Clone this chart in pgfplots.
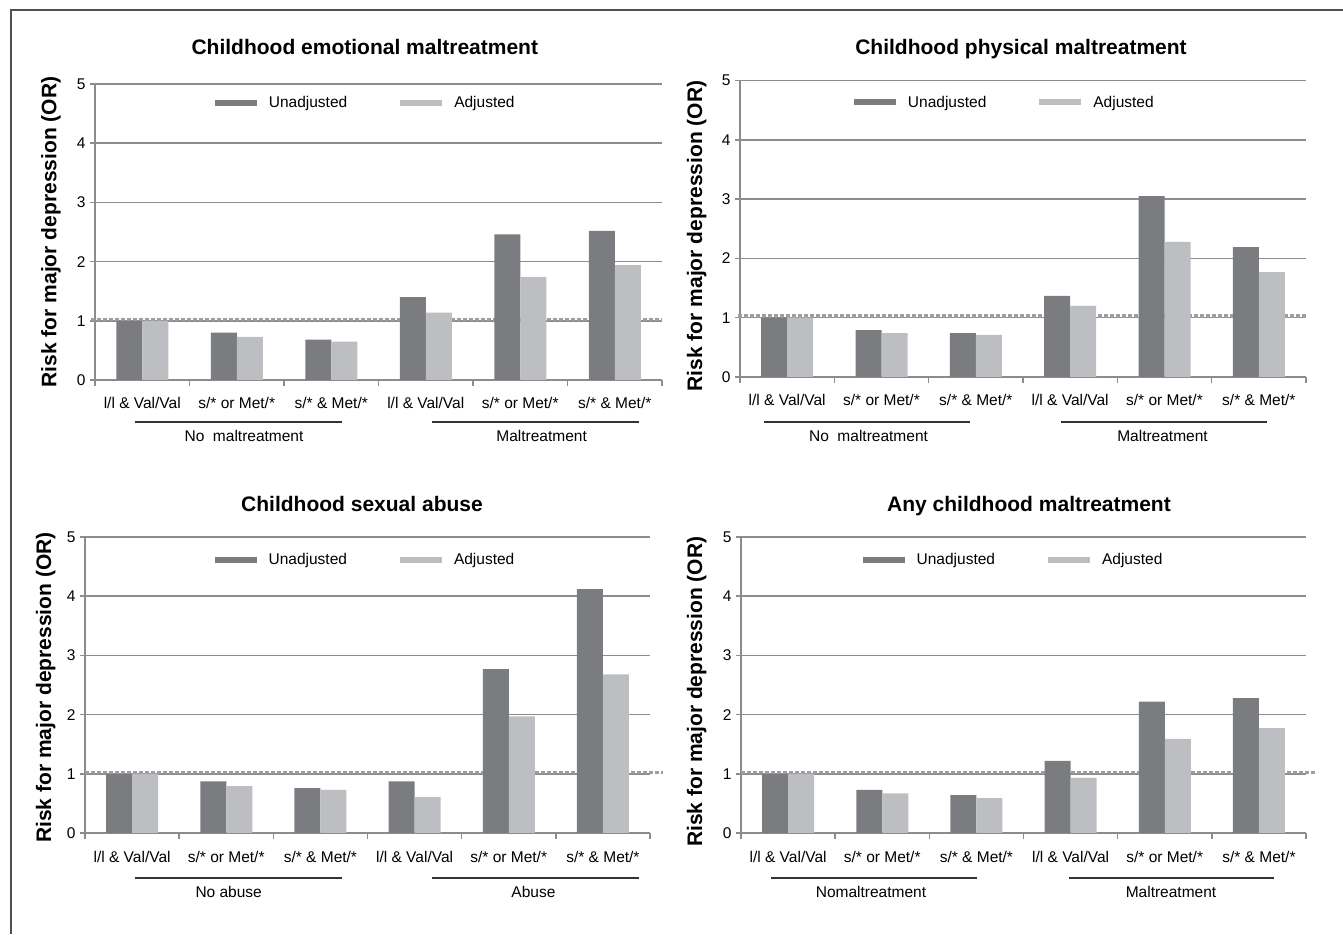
\documentclass[border=0pt]{standalone}
\usepackage{fontspec}
\setmainfont{Liberation Sans}
\usepackage{pgfplots}
\pgfplotsset{compat=1.18}

\definecolor{unadj}{RGB}{123,124,128}
\definecolor{adj}{RGB}{189,190,194}
\definecolor{gridgray}{RGB}{140,140,140}
\definecolor{refgray}{RGB}{158,158,158}
\definecolor{framegray}{RGB}{80,80,80}

\newcommand{\ticksize}{\fontsize{15.5}{18}\selectfont}
\newcommand{\bigsize}{\fontsize{21}{25}\selectfont\bfseries}

\tikzset{refline/.style={refgray, line width=3.5pt, dash pattern=on 4pt off 2pt}}

\pgfplotsset{
  riskaxis/.style={
    scale only axis,
    ybar=0pt, bar width=26pt,
    xmin=-0.5, xmax=5.5, ymin=0, ymax=5,
    axis lines*=left,
    axis line style={gridgray, line width=1.5pt},
    ymajorgrids, grid style={gridgray, line width=1.5pt},
    xtick={0,...,5},
    xticklabels={l/l \& Val/Val, s/* or Met/*, s/* \& Met/*, l/l \& Val/Val, s/* or Met/*, s/* \& Met/*},
    minor xtick={-0.5,0.5,...,5.5},
    major x tick style={draw=none},
    minor x tick style={gridgray, line width=1.5pt},
    y tick style={gridgray, line width=1.5pt},
    tick align=outside,
    major tick length=5pt, minor tick length=6pt,
    ytick={0,...,5},
    tick label style={font=\ticksize},
    xticklabel style={anchor=base, yshift=-24pt},
    yticklabel style={xshift=-1pt},
    /pgf/number format/assume math mode=true,
    clip=false,
    legend columns=2,
    legend style={draw=none, fill=none, inner sep=0pt, anchor=west, font=\ticksize,
      /tikz/every odd column/.append style={column sep=10pt},
      /tikz/every even column/.append style={column sep=51pt}},
  },
  unadjbar/.style={draw=none, fill=unadj,
    legend image code/.code={\fill[unadj] (0pt,-3pt) rectangle (42pt,3pt);}},
  adjbar/.style={draw=none, fill=adj,
    legend image code/.code={\fill[adj] (0pt,-3pt) rectangle (42pt,3pt);}},
}

\begin{document}
\begin{tikzpicture}
\useasboundingbox (0pt,0pt) rectangle (1343pt,934pt);
\draw[framegray, line width=2pt] (11pt,0pt) -- (11pt,924pt) -- (1343pt,924pt);

% Childhood emotional maltreatment
\begin{axis}[riskaxis, at={(95pt,554pt)}, anchor=south west, width=567pt, height=296pt,
  legend style={at={(0.211,0.936)}}]
\draw[refline] (axis cs:-0.54,1.025) -- (axis cs:5.5,1.025);
\addplot[unadjbar] coordinates {(0,1.00) (1,0.80) (2,0.68) (3,1.40) (4,2.46) (5,2.52)};
\addplot[adjbar] coordinates {(0,1.00) (1,0.73) (2,0.65) (3,1.14) (4,1.74) (5,1.94)};
\legend{Unadjusted, Adjusted}
\end{axis}

% Childhood physical maltreatment
\begin{axis}[riskaxis, at={(740pt,557pt)}, anchor=south west, width=566pt, height=296.5pt,
  legend style={at={(0.201,0.926)}}]
\draw[refline] (axis cs:-0.52,1.025) -- (axis cs:5.52,1.025);
\addplot[unadjbar] coordinates {(0,1.00) (1,0.79) (2,0.74) (3,1.37) (4,3.05) (5,2.19)};
\addplot[adjbar] coordinates {(0,1.00) (1,0.74) (2,0.71) (3,1.20) (4,2.28) (5,1.77)};
\legend{Unadjusted, Adjusted}
\end{axis}

% Childhood sexual abuse
\begin{axis}[riskaxis, at={(85pt,101pt)}, anchor=south west, width=565pt, height=296pt,
  legend style={at={(0.229,0.922)}}]
\draw[refline] (axis cs:-0.5,1.025) -- (axis cs:5.64,1.025);
\addplot[unadjbar] coordinates {(0,1.00) (1,0.87) (2,0.76) (3,0.87) (4,2.77) (5,4.12)};
\addplot[adjbar] coordinates {(0,1.00) (1,0.79) (2,0.73) (3,0.61) (4,1.97) (5,2.68)};
\legend{Unadjusted, Adjusted}
\end{axis}

% Any childhood maltreatment
\begin{axis}[riskaxis, at={(741pt,101pt)}, anchor=south west, width=565pt, height=296pt,
  legend style={at={(0.215,0.922)}}]
\draw[refline] (axis cs:-0.5,1.025) -- (axis cs:5.6,1.025);
\addplot[unadjbar] coordinates {(0,1.00) (1,0.73) (2,0.64) (3,1.22) (4,2.22) (5,2.28)};
\addplot[adjbar] coordinates {(0,1.00) (1,0.67) (2,0.59) (3,0.93) (4,1.59) (5,1.77)};
\legend{Unadjusted, Adjusted}
\end{axis}

% titles
\node[font=\bigsize, anchor=base] at (364.8pt,879pt) {Childhood emotional maltreatment};
\node[font=\bigsize, anchor=base] at (1021pt,879pt) {Childhood physical maltreatment};
\node[font=\bigsize, anchor=base] at (362pt,422.3pt) {Childhood sexual abuse};
\node[font=\bigsize, anchor=base] at (1029pt,422.3pt) {Any childhood maltreatment};

% y labels
\foreach \px/\py in {56.4/702, 702/698, 51/246.5, 702/242.3}
  \node[font=\bigsize, anchor=base, rotate=90] at (\px pt,\py pt) {Risk for major depression (OR)};

% group brackets
\draw[black!80, line width=1.8pt] (135pt,512pt) -- (342pt,512pt);
\draw[black!80, line width=1.8pt] (432pt,512pt) -- (639pt,512pt);
\draw[black!80, line width=1.8pt] (764pt,512pt) -- (970pt,512pt);
\draw[black!80, line width=1.8pt] (1061pt,512pt) -- (1267pt,512pt);
\draw[black!80, line width=1.8pt] (135pt,55.7pt) -- (342pt,55.7pt);
\draw[black!80, line width=1.8pt] (432pt,55.7pt) -- (639pt,55.7pt);
\draw[black!80, line width=1.8pt] (771pt,55.7pt) -- (977pt,55.7pt);
\draw[black!80, line width=1.8pt] (1069pt,55.7pt) -- (1274pt,55.7pt);

\node[font=\ticksize, anchor=base] at (244pt,492.3pt) {No~~maltreatment};
\node[font=\ticksize, anchor=base] at (541.6pt,492.3pt) {Maltreatment};
\node[font=\ticksize, anchor=base] at (868.5pt,492.3pt) {No~~maltreatment};
\node[font=\ticksize, anchor=base] at (1162.5pt,492.3pt) {Maltreatment};
\node[font=\ticksize, anchor=base] at (228.7pt,36.3pt) {No abuse};
\node[font=\ticksize, anchor=base] at (533.4pt,36.3pt) {Abuse};
\node[font=\ticksize, anchor=base] at (871pt,36.3pt) {Nomaltreatment};
\node[font=\ticksize, anchor=base] at (1171pt,36.3pt) {Maltreatment};
\end{tikzpicture}
\end{document}
